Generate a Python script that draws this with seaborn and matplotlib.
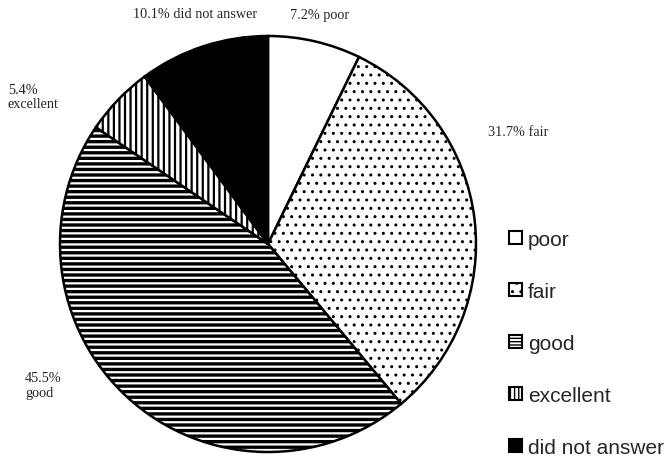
import matplotlib
matplotlib.use("Agg")
import matplotlib.pyplot as plt
import seaborn as sns
from matplotlib.patches import Patch

categories = ["poor", "fair", "good", "excellent", "did not answer"]
values = [7.2, 31.7, 45.5, 5.4, 10.1]
pct_labels = ["7.2% poor", "31.7% fair", "45.5%\ngood", "5.4%\nexcellent", "10.1% did not answer"]

sns.set_theme(style="white")
plt.rcParams["hatch.linewidth"] = 1.6

fills = ["white", "white", "white", "white", "black"]
hatches = [None, "..", "---", "|||", None]
hatch_lw = [1.0, 1.0, 2.4, 1.6, 1.0]
legend_hatches = [None, "..", "-----", "||||", None]

fig = plt.figure(figsize=(6.69, 4.60), dpi=100)
ax = fig.add_axes([60 / 669, 7 / 460, 416 / 669, 416 / 460])
wedges, _ = ax.pie(values, startangle=90, counterclock=False, colors=fills,
                   wedgeprops=dict(edgecolor="black", linewidth=1.8))
for w, h, lw in zip(wedges, hatches, hatch_lw):
    if h:
        w.set_hatch(h)
        try:
            w.set_hatch_linewidth(lw)
        except Exception:
            pass
ax.set_xlim(-1.0, 1.0)
ax.set_ylim(-1.0, 1.0)
ax.set_aspect("equal")
ax.axis("off")

serif = ["Liberation Serif", "DejaVu Serif"]
# label positions in figure pixels (x, y from top), alignment
pos = [(290, 15, "left"), (488, 133, "left"), (25, 386, "left"), (8, 97, "left"), (133, 15, "left")]
for lab, (px, py, ha) in zip(pct_labels, pos):
    fig.text(px / 669, 1 - py / 460, lab, ha=ha, va="center", fontsize=10.3,
             family=serif, linespacing=1.1)

handles = []
for c, f, h in zip(categories, fills, legend_hatches):
    p = Patch(facecolor=f, edgecolor="black", hatch=h, linewidth=1.5, label=c)
    handles.append(p)
leg = fig.legend(handles=handles, loc="upper left", bbox_to_anchor=(509 / 669, 1 - 231 / 460),
                 frameon=False, prop={"family": ["Liberation Sans"], "size": 15},
                 handlelength=0.62, handleheight=0.62, handletextpad=0.3,
                 labelspacing=1.58, borderpad=0, borderaxespad=0)
for lp in leg.get_patches():
    try:
        lp.set_hatch_linewidth(1.0)
    except Exception:
        pass

fig.savefig("out.png", dpi=100)
